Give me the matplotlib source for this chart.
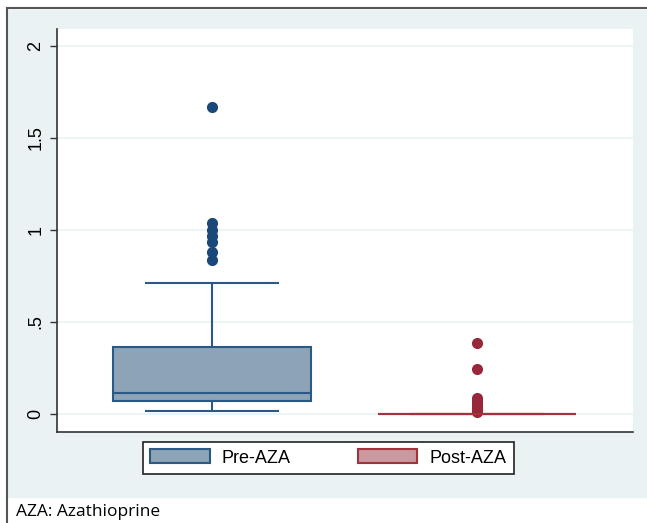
import matplotlib.pyplot as plt
from matplotlib.patches import Patch, Rectangle
from matplotlib.lines import Line2D

plt.rcParams['font.family'] = ['Liberation Sans', 'DejaVu Sans']

groups = ["Pre-AZA", "Post-AZA"]
q1 = [0.07, 0.0]
median = [0.115, 0.0]
q3 = [0.365, 0.0]
whis_lo = [0.016, 0.0]
whis_hi = [0.712, 0.0]
outliers = [
    [1.668, 1.038, 1.0, 0.967, 0.935, 0.88, 0.837],
    [0.386, 0.245, 0.085, 0.07, 0.055, 0.04, 0.03, 0.02, 0.01],
]
yticks = [0, 0.5, 1, 1.5, 2]
yticklabels = ["0", ".5", "1", "1.5", "2"]

edge = ["#2b5987", "#a3323d"]
fill = ["#8da3b6", "#c89aa0"]
dots = ["#1a4878", "#96283a"]

W, H = 647, 523
fig = plt.figure(figsize=(W / 100, H / 100), dpi=100)
fig.patch.set_facecolor("white")

# graph region background + outer frame lines
fig.add_artist(Rectangle((8 / W, 1 - 497 / H), 1, (497 - 10) / H,
                         transform=fig.transFigure, color="#eaf2f3", zorder=0))
fig.add_artist(Line2D([7 / W, 1], [1 - 8 / H, 1 - 8 / H], transform=fig.transFigure,
                      color="#555555", lw=1.5))
fig.add_artist(Line2D([7 / W, 7 / W], [0, 1 - 8 / H], transform=fig.transFigure,
                      color="#555555", lw=1.5))

ax = fig.add_axes([57 / W, 1 - 432 / H, (633 - 57) / W, (432 - 29) / H])
ax.set_facecolor("white")

stats = []
for i in range(2):
    stats.append(dict(q1=q1[i], med=median[i], q3=q3[i], whislo=whis_lo[i],
                      whishi=whis_hi[i], fliers=outliers[i], label=groups[i]))

for i in range(2):
    ax.bxp([stats[i]], positions=[i + 1], widths=0.75, patch_artist=True,
           boxprops=dict(facecolor=fill[i] if i == 0 else "none", edgecolor=edge[i], lw=1.5),
           medianprops=dict(color=edge[i], lw=1.5),
           whiskerprops=dict(color=edge[i], lw=1.5),
           capprops=dict(color=edge[i], lw=1.5),
           capwidths=0.5,
           flierprops=dict(marker="o", markerfacecolor=dots[i], markeredgecolor=dots[i],
                           markersize=7, linestyle="none"),
           zorder=3)

ax.set_xlim(0.415, 2.589)
ax.set_ylim(-0.098, 2.09)
ax.set_xticks([])
ax.set_yticks(yticks)
ax.set_yticklabels(yticklabels, rotation=90, va="center", fontsize=13)
ax.tick_params(axis="y", length=5, width=1, color="#333333", pad=4)
ax.grid(axis="y", color="#e9f3f4", lw=1.2, zorder=0)
ax.set_axisbelow(True)
for s in ["top", "right"]:
    ax.spines[s].set_visible(False)
for s in ["left", "bottom"]:
    ax.spines[s].set_color("#333333")
    ax.spines[s].set_linewidth(1.2)

handles = [Patch(facecolor=fill[i], edgecolor=edge[i], lw=1.5) for i in range(2)]
leg = fig.legend(handles, groups, loc="center left", ncol=2,
                 bbox_to_anchor=(143 / W, 1 - 458 / H), frameon=True, fancybox=False,
                 edgecolor="#222222", facecolor="white", framealpha=1,
                 fontsize=13, handlelength=3.3, handleheight=0.8,
                 columnspacing=3.7, borderpad=0.4, handletextpad=0.67,
                 borderaxespad=0)
leg.get_frame().set_linewidth(1.2)

fig.text(16 / W, 1 - 512 / H, "AZA: Azathioprine", fontsize=12.5,
         family=["Open Sans", "DejaVu Sans"], va="center", ha="left")

fig.savefig("out.png", dpi=100)
